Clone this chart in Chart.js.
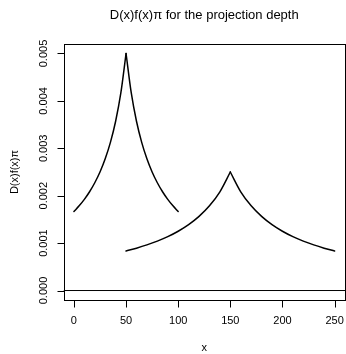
<!DOCTYPE html>
<html>
<head>
<meta charset="utf-8">
<script src="https://cdn.jsdelivr.net/npm/chart.js@4"></script>
<style>
  html, body { margin: 0; padding: 0; background: #fff; }
  #wrap { width: 346px; height: 354px; }
</style>
</head>
<body>
<div id="wrap"><canvas id="ctx" width="346" height="354"></canvas></div>
<script>
// values
var xs1 = [0, 5, 10, 15, 20, 25, 30, 35, 40, 45, 50, 55, 60, 65, 70, 75, 80, 85, 90, 95, 100];
var ys1 = [0.001667, 0.001786, 0.001923, 0.002083, 0.002273, 0.0025, 0.002778, 0.003125, 0.003571, 0.004167, 0.005,
           0.004167, 0.003571, 0.003125, 0.002778, 0.0025, 0.002273, 0.002083, 0.001923, 0.001786, 0.001667];
var xs2 = [50, 60, 70, 80, 90, 100, 110, 120, 130, 140, 150, 160, 170, 180, 190, 200, 210, 220, 230, 240, 250];
var ys2 = [0.000833, 0.000893, 0.000962, 0.001042, 0.001136, 0.00125, 0.001389, 0.001563, 0.001786, 0.002083, 0.0025,
           0.002083, 0.001786, 0.001563, 0.001389, 0.00125, 0.001136, 0.001042, 0.000962, 0.000893, 0.000833];
var peak1 = 10, peak2 = 10; // index of the cusp in each series
var xTicks = [0, 50, 100, 150, 200, 250];
var yTicks = [0, 0.001, 0.002, 0.003, 0.004, 0.005];
var yTickLabels = ['0.000', '0.001', '0.002', '0.003', '0.004', '0.005'];
var hLine = [0];

var font = '"Liberation Sans", Arial, Helvetica, sans-serif';

function pts(xs, ys, from, to) {
  var out = [];
  for (var i = from; i <= to; i++) out.push({ x: xs[i], y: ys[i] });
  return out;
}

function curve(data) {
  return {
    data: data, borderColor: '#000', borderWidth: 1.5, pointRadius: 0,
    cubicInterpolationMode: 'monotone', borderCapStyle: 'round', borderJoinStyle: 'round', fill: false
  };
}

var rAxes = {
  id: 'rAxes',
  afterDraw: function (chart) {
    var c = chart.ctx, a = chart.chartArea;
    var sx = chart.scales.x, sy = chart.scales.y;
    c.save();
    c.strokeStyle = '#000';
    c.fillStyle = '#000';
    c.lineWidth = 1;
    // box
    c.strokeRect(Math.round(a.left) + 0.5, Math.round(a.top) + 0.5,
      Math.round(a.right - a.left) - 1, Math.round(a.bottom - a.top));
    // x axis
    var by = Math.round(a.bottom) + 0.5;
    c.beginPath();
    c.moveTo(sx.getPixelForValue(xTicks[0]), by);
    c.lineTo(sx.getPixelForValue(xTicks[xTicks.length - 1]), by);
    xTicks.forEach(function (v) {
      var px = Math.round(sx.getPixelForValue(v)) + 0.5;
      c.moveTo(px, by);
      c.lineTo(px, by + 7);
    });
    c.stroke();
    c.font = '11px ' + font;
    c.textAlign = 'center';
    c.textBaseline = 'middle';
    xTicks.forEach(function (v) {
      c.fillText(String(v), sx.getPixelForValue(v), 321);
    });
    // y axis
    var lx = Math.round(a.left) + 0.5;
    c.beginPath();
    c.moveTo(lx, sy.getPixelForValue(yTicks[0]));
    c.lineTo(lx, sy.getPixelForValue(yTicks[yTicks.length - 1]));
    yTicks.forEach(function (v) {
      var py = Math.round(sy.getPixelForValue(v)) + 0.5;
      c.moveTo(lx, py);
      c.lineTo(lx - 7, py);
    });
    c.stroke();
    yTicks.forEach(function (v, i) {
      c.save();
      c.translate(44, sy.getPixelForValue(v));
      c.rotate(-Math.PI / 2);
      c.fillText(yTickLabels[i], 0, 0);
      c.restore();
    });
    // axis titles
    c.fillText('x', (a.left + a.right) / 2, 348);
    c.save();
    c.translate(15, (a.top + a.bottom) / 2);
    c.rotate(-Math.PI / 2);
    c.fillText('D(x)f(x)\u03c0', 0, 0);
    c.restore();
    // main title
    c.font = '13px ' + font;
    c.fillText('D(x)f(x)\u03c0 for the projection depth', (a.left + a.right) / 2, 15);
    c.restore();
  }
};

new Chart(document.getElementById('ctx'), {
  type: 'line',
  data: {
    datasets: [
      curve(pts(xs1, ys1, 0, peak1)),
      curve(pts(xs1, ys1, peak1, xs1.length - 1)),
      curve(pts(xs2, ys2, 0, peak2)),
      curve(pts(xs2, ys2, peak2, xs2.length - 1)),
      { data: [{ x: -10, y: hLine[0] }, { x: 260, y: hLine[0] }], borderColor: '#000', borderWidth: 1, pointRadius: 0, tension: 0, fill: false }
    ]
  },
  options: {
    responsive: false,
    animation: false,
    events: [],
    layout: { padding: { left: 63.5, right: 1, top: 44, bottom: 54 } },
    plugins: { legend: { display: false }, tooltip: { enabled: false }, title: { display: false } },
    scales: {
      x: { type: 'linear', min: -10, max: 260, display: false },
      y: { type: 'linear', min: -0.0002, max: 0.0052, display: false }
    }
  },
  plugins: [rAxes]
});
</script>
</body>
</html>
